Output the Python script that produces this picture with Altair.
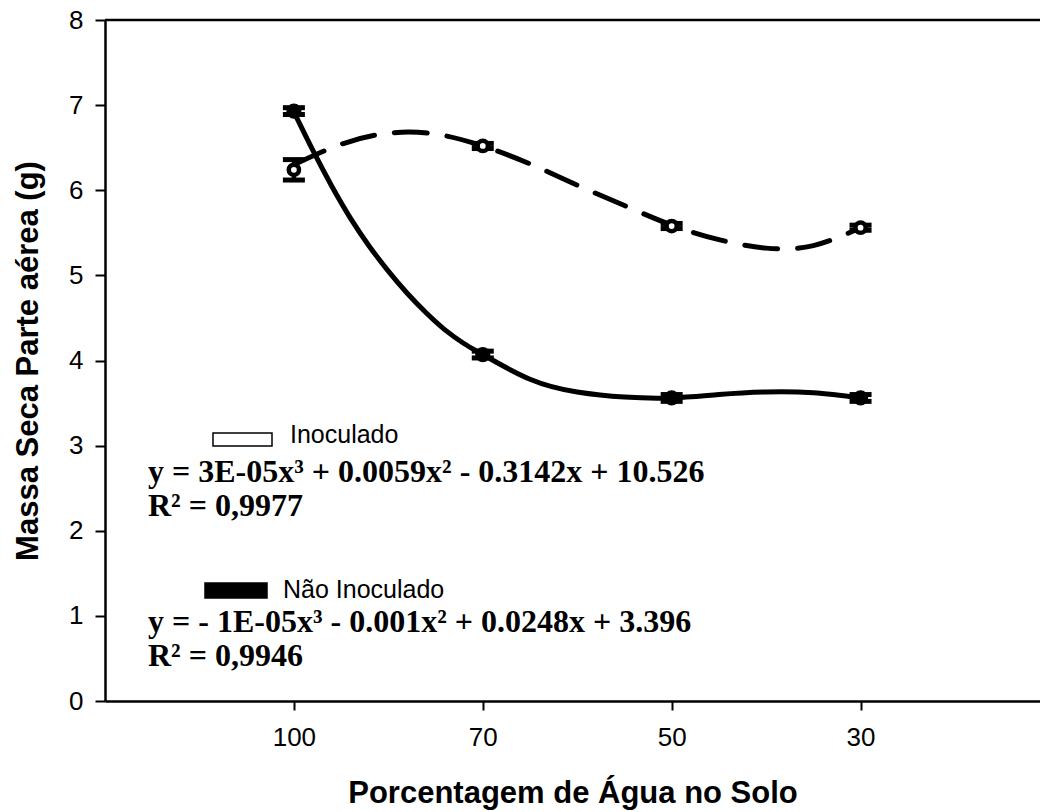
import altair as alt
import pandas as pd

# Treatment levels (percent of water in the soil), plotted at evenly spaced positions
levels = ["100", "70", "50", "30"]
positions = [0, 1, 2, 3]

# Mean shoot dry mass (g) and error half-widths
inoculado = [6.24, 6.52, 5.58, 5.56]
inoculado_err = [0.12, 0.03, 0.03, 0.03]
nao_inoculado = [6.93, 4.07, 3.56, 3.56]
nao_inoculado_err = [0.04, 0.04, 0.04, 0.04]

# Fitted cubic trend lines, sampled along the position axis
fit_inoc_t = [0, 0.25, 0.5, 0.75, 1.0, 1.25, 1.5, 1.75, 2.0, 2.25, 2.5, 2.75, 3.0]
fit_inoc_v = [6.30, 6.54, 6.67, 6.66, 6.52, 6.31, 6.06, 5.82, 5.59, 5.42, 5.32, 5.35, 5.56]
fit_nao_t = [0, 0.1, 0.2, 0.3, 0.4, 0.5, 0.6, 0.7, 0.8, 0.9, 1.0,
             1.25, 1.5, 1.75, 2.0, 2.25, 2.5, 2.75, 3.0]
fit_nao_v = [6.92, 6.47, 6.05, 5.67, 5.34, 5.05, 4.79, 4.56, 4.36, 4.20, 4.07,
             3.78, 3.63, 3.57, 3.56, 3.60, 3.63, 3.62, 3.56]

# Legend / regression annotation texts
leg_inoc = "Inoculado"
eq_inoc = "y = 3E-05x³ + 0.0059x² - 0.3142x + 10.526"
r2_inoc = "R² = 0,9977"
leg_nao = "Não Inoculado"
eq_nao = "y = - 1E-05x³ - 0.001x² + 0.0248x + 3.396"
r2_nao = "R² = 0,9946"

W, H = 935, 681
SANS = "Liberation Sans, Arial, sans-serif"
SERIF = "Liberation Serif, Times New Roman, serif"

pts = pd.DataFrame({
    "t": positions * 2,
    "v": inoculado + nao_inoculado,
    "e": inoculado_err + nao_inoculado_err,
    "serie": ["Inoculado"] * 4 + ["Não Inoculado"] * 4,
})
pts["lo"] = pts["v"] - pts["e"]
pts["hi"] = pts["v"] + pts["e"]
pts_inoc = pts[pts.serie == "Inoculado"]
pts_nao = pts[pts.serie == "Não Inoculado"]

fit_inoc = pd.DataFrame({"t": fit_inoc_t, "v": fit_inoc_v})
fit_nao = pd.DataFrame({"t": fit_nao_t, "v": fit_nao_v})

label_expr = "[" + ",".join(f"'{s}'" for s in levels) + "][datum.value]"

x_enc = alt.X(
    "t:Q",
    scale=alt.Scale(domain=[-1, 3.95], nice=False, zero=False),
    axis=alt.Axis(
        values=positions, labelExpr=label_expr, grid=False,
        title="Porcentagem de Água no Solo",
        titleFont=SANS, titleFontSize=31, titleFontWeight="bold", titleColor="black",
        titleY=101, titleBaseline="alphabetic",
        labelFont=SANS, labelFontSize=26, labelColor="black", labelPadding=14,
        tickSize=9, tickWidth=2, tickColor="black",
        domainWidth=2.5, domainColor="black",
    ),
)
y_scale = alt.Scale(domain=[0, 8], nice=False, zero=True)
y_enc = alt.Y(
    "v:Q",
    scale=y_scale,
    axis=alt.Axis(
        values=list(range(9)), format="d", grid=False,
        title="Massa Seca Parte aérea (g)",
        titleFont=SANS, titleFontSize=31, titleFontWeight="bold", titleColor="black",
        titleX=-77, titleY=H / 2, titleAngle=270, titleAlign="center", titleBaseline="middle",
        labelFont=SANS, labelFontSize=26, labelColor="black", labelPadding=12,
        tickSize=10, tickWidth=2, tickColor="black",
        domainWidth=2.5, domainColor="black",
    ),
)

# frame line along the top of the plot area
top_rule = alt.Chart(pd.DataFrame({"a": [0]})).mark_rule(
    color="black", strokeWidth=2.5
).encode(y=alt.datum(8))

line_inoc = alt.Chart(fit_inoc).mark_line(
    color="black", strokeWidth=5, strokeDash=[33, 20], strokeCap="round",
    interpolate="natural",
).encode(x=x_enc, y=y_enc)

line_nao = alt.Chart(fit_nao).mark_line(
    color="black", strokeWidth=5, interpolate="natural",
).encode(x="t:Q", y="v:Q")

err_rule = alt.Chart(pts).mark_rule(color="black", strokeWidth=4).encode(
    x="t:Q", y="lo:Q", y2="hi:Q"
)
cap_lo = alt.Chart(pts).mark_tick(
    color="black", orient="horizontal", size=22, thickness=5, opacity=1
).encode(x="t:Q", y="lo:Q")
cap_hi = alt.Chart(pts).mark_tick(
    color="black", orient="horizontal", size=22, thickness=5, opacity=1
).encode(x="t:Q", y="hi:Q")

pt_nao = alt.Chart(pts_nao).mark_point(
    shape="circle", filled=True, color="black", size=230, opacity=1
).encode(x="t:Q", y="v:Q")
pt_inoc = alt.Chart(pts_inoc).mark_point(
    shape="circle", filled=False, fill="white", fillOpacity=1,
    stroke="black", strokeWidth=4.5, size=105, opacity=1
).encode(x="t:Q", y="v:Q")

one = pd.DataFrame({"a": [0]})


def box(x1, x2, y1, y2, fill):
    return alt.Chart(one).mark_rect(fill=fill, stroke="black", strokeWidth=1.5).encode(
        x=alt.value(x1), x2=alt.value(x2), y=alt.value(y1), y2=alt.value(y2)
    )


def label(txt, x, y, font, size, weight="normal"):
    return alt.Chart(one).mark_text(
        font=font, fontSize=size, fontWeight=weight, color="black",
        align="left", baseline="alphabetic",
    ).encode(x=alt.value(x), y=alt.value(y), text=alt.value(txt))


annotations = [
    box(108, 167, 413, 426, "white"),
    label(leg_inoc, 185, 423, SANS, 25),
    label(eq_inoc, 43, 462, SERIF, 32, "bold"),
    label(r2_inoc, 43, 496, SERIF, 32, "bold"),
    box(100, 162, 563, 578, "black"),
    label(leg_nao, 178, 578, SANS, 25),
    label(eq_nao, 43, 612, SERIF, 32, "bold"),
    label(r2_nao, 43, 646, SERIF, 32, "bold"),
]

chart = alt.layer(
    line_inoc, line_nao, top_rule, err_rule, cap_lo, cap_hi, pt_nao, pt_inoc, *annotations
).properties(
    width=W, height=H,
    autosize=alt.AutoSizeParams(type="none"),
    padding={"left": 105, "top": 20, "right": 0, "bottom": 111},
    background="white",
).configure_view(stroke=None)

chart.save("out.html", embed_options={"renderer": "svg", "actions": False})
